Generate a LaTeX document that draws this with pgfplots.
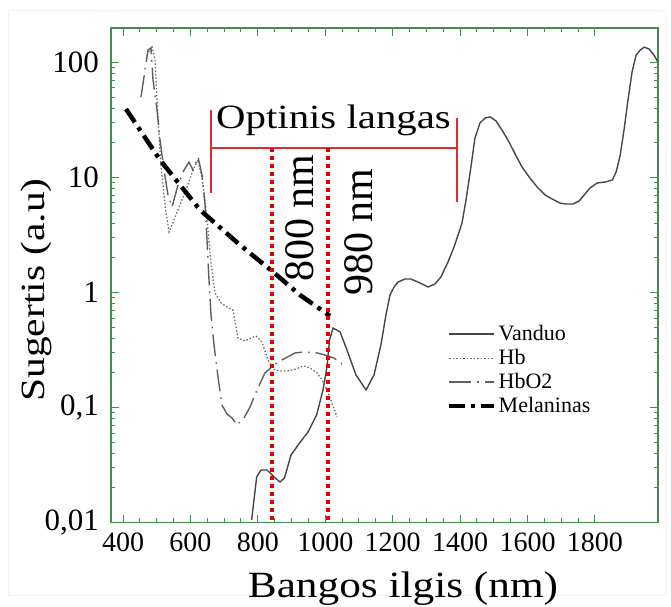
\documentclass[border=0pt]{standalone}
\usepackage{fontspec}
\setmainfont{Liberation Serif}
\usepackage{graphicx}
\usepackage{pgfplots}
\pgfplotsset{compat=1.18}
\definecolor{axgreen}{RGB}{70,140,80}
\definecolor{redA}{RGB}{220,45,45}
\definecolor{redD}{RGB}{230,0,0}
\definecolor{wat}{RGB}{70,70,70}
\definecolor{hbc}{RGB}{110,110,110}
\definecolor{hbo}{RGB}{95,95,95}
\begin{document}
\begin{tikzpicture}
\begin{axis}[
  scale only axis, width=547pt, height=494.5pt,
  xmin=364.4, xmax=1987, ymin=0.01, ymax=199.5, ymode=log,
  axis line style={axgreen, line width=1.3pt},
  every tick/.style={axgreen, line width=1pt},
  major tick length=8pt, minor tick length=4.5pt,
  xtick={400,600,800,1000,1200,1400,1600,1800},
  xticklabels={400,600,800,1000,1200,1400,1600,1800},
  minor x tick num=3,
  ytick={0.01,0.1,1,10,100}, yticklabels={{0,01},{0,1},1,10,100},
  /pgf/number format/assume math mode=true,
  x tick label style={font=\fontsize{28}{30}\selectfont, inner sep=0pt, anchor=north, yshift=-10pt},
  y tick label style={font=\fontsize{31}{33}\selectfont, inner sep=0pt, anchor=east, xshift=-12pt},
  legend style={at={(0.6143,0.4055)}, anchor=north west, draw=none, fill=none,
    font=\fontsize{22}{22}\selectfont, inner sep=0pt, row sep=0pt,
    nodes={text height=16pt, text depth=4pt, inner sep=2pt}},
  legend cell align=left,
  legend image code/.code={\draw[#1] (0pt,0pt) -- (45pt,0pt);},
]
\addplot[wat, line width=1.4pt] coordinates {
(781.5,0.0105) (796.6,0.0249) (809.4,0.0286) (827.2,0.0286) (848,0.0249) (865.7,0.0225)
(879,0.0244) (898.4,0.0386) (923.6,0.0491) (948.8,0.0612) (974.3,0.0861) (993.3,0.142)
(1005,0.225) (1012.6,0.386) (1023,0.491) (1044,0.454) (1064.5,0.316) (1091,0.192)
(1121,0.142) (1144.6,0.192) (1165,0.349) (1180,0.637) (1192,0.951) (1204,1.116)
(1216,1.234) (1236.5,1.31) (1254,1.31) (1281,1.21) (1305,1.116) (1325.5,1.186)
(1343,1.364) (1364,1.84) (1382,2.49) (1405.6,4.02) (1417.5,6.37) (1432,12.3)
(1444,22.0) (1459,29.8) (1474,32.9) (1489,33.6) (1506.5,31.0) (1524,25.9)
(1545,20.4) (1566,15.4) (1584,12.3) (1607,9.9) (1631,8.1) (1652,7.05) (1673,6.5)
(1696,6.0) (1714,5.88) (1735,5.88) (1753,6.25) (1768,7.05) (1785.5,8.1) (1806.6,8.96)
(1830.8,9.14) (1851.6,9.5) (1863,11.2) (1875,15.7) (1886.2,25.9) (1898,47.2)
(1910,82.6) (1922,116) (1934,128) (1946,136) (1960.4,131) (1975,116) (1987,101)
};
\addlegendentry{Vanduo}
\addplot[hbc, line width=1.3pt, dash pattern=on 1.5pt off 2pt] coordinates {
(471.2,116) (486,139) (495,105) (500.9,47.2) (506.8,23.4) (512.7,12.8) (524.6,5.77)
(536.5,3.36) (551.3,4.27) (569.1,5.77) (589.9,8.27) (607.7,11.6) (622.5,14.2)
(634.4,9.9) (643.3,6.37) (652.2,3.49) (661,1.81) (672.9,0.99) (690.7,0.811)
(708.5,0.748) (726.3,0.705) (741.1,0.402) (761.9,0.378) (779.7,0.402) (794.5,0.419)
(812.4,0.371) (830.1,0.259) (845,0.216) (865.7,0.208) (889.5,0.208) (913.2,0.216)
(934,0.230) (954.7,0.221) (975.5,0.2) (990.3,0.173) (1005.2,0.142) (1020,0.109)
(1034.8,0.0826)
};
\addlegendentry{Hb}
\addplot[hbo, line width=1.4pt, dash pattern=on 22pt off 6pt on 1.5pt off 6pt] coordinates {
(453.4,50.1) (465.3,86) (474.2,128) (483,134) (489,70.4) (500.9,38.6) (509.8,21.2)
(521.6,11.6) (533.5,7.05) (545.4,5.54) (563.2,8.61) (581,11.6) (595.8,13.6)
(607.7,11.6) (622.5,15.1) (634.4,10.5) (643.3,5.77) (649.2,2.86) (655.1,1.28)
(661,0.637) (670,0.349) (681.8,0.184) (693.7,0.105) (708.5,0.0878) (723.3,0.0811)
(738.2,0.0705) (759,0.0811) (776.7,0.101) (797.5,0.142) (821.2,0.2) (848,0.234)
(871.7,0.259) (910.2,0.298) (937,0.304) (975.5,0.298) (999.2,0.286) (1026,0.269)
(1049.7,0.239)
};
\addlegendentry{HbO2}
\addplot[black, line width=4.5pt, dash pattern=on 16pt off 6pt on 4pt off 6pt] coordinates {
(408.9,39.4) (509.8,14.2) (628.4,5.22) (747,2.59) (845,1.51) (925,0.951) (1014,0.625)
};
\addlegendentry{Melaninas}
\coordinate (sw) at (rel axis cs:0,0);
\end{axis}
\begin{scope}[shift={([shift={(-111pt,522.5pt)}]sw)}, x=1pt, y=-1pt]
  \draw[gray!10, line width=1pt] (9,11) rectangle (666,595);
  % bracket
  \draw[redA, line width=2pt] (211,148) -- (457,148);
  \draw[redA, line width=2pt] (211,110) -- (211,193);
  \draw[redA, line width=2pt] (457,118) -- (457,202);
  % dotted lines
  \draw[redD, line width=3.5pt, dash pattern=on 4pt off 4pt] (272,148) -- (272,522.5);
  \draw[redD, line width=3.5pt, dash pattern=on 4pt off 4pt] (328,148) -- (328,522.5);
  % texts
  \node[anchor=base, inner sep=0pt, font=\fontsize{34}{34}\selectfont] at (333.5,129) {\scalebox{1.2}[1]{Optinis langas}};
  \node[rotate=90, anchor=base, inner sep=0pt, font=\fontsize{42}{42}\selectfont] at (313,218) {800 nm};
  \node[rotate=90, anchor=base, inner sep=0pt, font=\fontsize{42}{42}\selectfont] at (372,232) {980 nm};
  \node[anchor=base, inner sep=0pt, font=\fontsize{37}{37}\selectfont] at (403,597) {\scalebox{1.17}[1]{Bangos ilgis (nm)}};
  \node[rotate=90, anchor=base, inner sep=0pt, font=\fontsize{34}{34}\selectfont] at (45,290) {\scalebox{1.22}[1]{Sugertis (a.u)}};
  \pgfresetboundingbox
  \path (0,0) rectangle (671,606);
\end{scope}
\end{tikzpicture}
\end{document}
